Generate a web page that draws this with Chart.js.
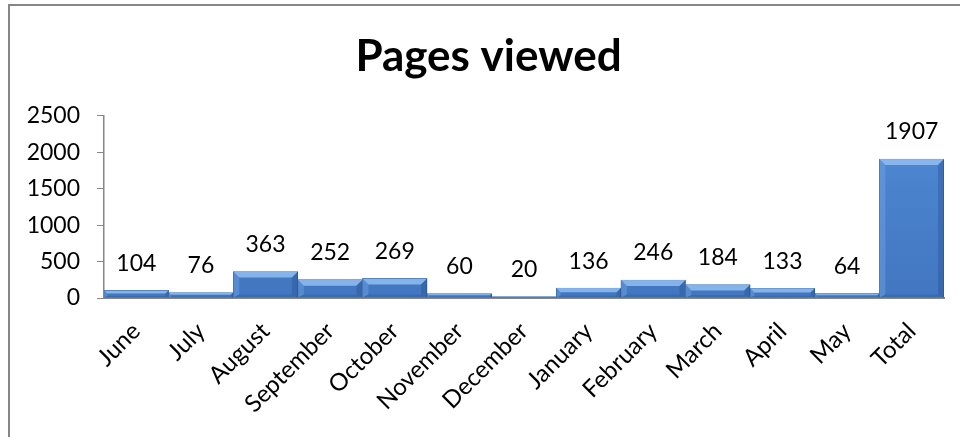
<!DOCTYPE html>
<html>
<head>
<meta charset="utf-8">
<script src="https://cdn.jsdelivr.net/npm/chart.js@4/dist/chart.umd.min.js"></script>
<style>
  body { margin: 0; background: #fff; }
  #wrap { position: relative; width: 960px; height: 437px; overflow: hidden; }
  #frame { position: absolute; left: 8px; top: 4px; width: 980px; height: 460px;
           border: 2px solid #868686; pointer-events: none; }
</style>
</head>
<body>
<div id="wrap">
  <canvas id="myChart" width="960" height="437"></canvas>
  <div id="frame"></div>
</div>
<script>
var months = ['June', 'July', 'August', 'September', 'October', 'November', 'December',
  'January', 'February', 'March', 'April', 'May', 'Total'];
var pagesViewed = [104, 76, 363, 252, 269, 60, 20, 136, 246, 184, 133, 64, 1907];
var yTicks = [0, 500, 1000, 1500, 2000, 2500];

var font = 'Lato, "Open Sans", sans-serif';

// excel centres the title over the frame, not the canvas
var titleShift = {
  id: 'titleShift',
  afterLayout: function (chart) {
    if (chart.titleBlock) chart.titleBlock.left = 33;
  }
};

// bevelled look of the excel bars
var bevel = {
  id: 'bevel',
  afterDatasetsDraw: function (chart) {
    var ctx = chart.ctx;
    chart.getDatasetMeta(0).data.forEach(function (bar) {
      var l = bar.x - bar.width / 2, r = bar.x + bar.width / 2;
      var t = bar.y, b = bar.base;
      var d = Math.min(6, (b - t) * 0.45);
      var e = Math.min(3, (b - t) * 0.2);
      ctx.save();
      ctx.fillStyle = 'rgba(150,195,245,0.8)';
      ctx.beginPath();
      ctx.moveTo(l, t); ctx.lineTo(r, t); ctx.lineTo(r - d, t + d); ctx.lineTo(l + d, t + d);
      ctx.closePath(); ctx.fill();
      ctx.fillStyle = 'rgba(30,70,130,0.3)';
      ctx.beginPath();
      ctx.moveTo(r, t); ctx.lineTo(r, b); ctx.lineTo(r - d, b - e); ctx.lineTo(r - d, t + d);
      ctx.closePath(); ctx.fill();
      ctx.fillStyle = 'rgba(30,70,130,0.25)';
      ctx.beginPath();
      ctx.moveTo(l, b); ctx.lineTo(r, b); ctx.lineTo(r - d, b - e); ctx.lineTo(l + d, b - e);
      ctx.closePath(); ctx.fill();
      ctx.fillStyle = 'rgba(120,170,230,0.4)';
      ctx.beginPath();
      ctx.moveTo(l, t); ctx.lineTo(l + d, t + d); ctx.lineTo(l + d, b - e); ctx.lineTo(l, b);
      ctx.closePath(); ctx.fill();
      ctx.restore();
    });
  }
};

var valueLabels = {
  id: 'valueLabels',
  afterDatasetsDraw: function (chart) {
    var ctx = chart.ctx;
    ctx.save();
    ctx.font = '23px ' + font;
    ctx.fillStyle = '#000';
    ctx.textAlign = 'center';
    ctx.textBaseline = 'middle';
    chart.getDatasetMeta(0).data.forEach(function (bar, i) {
      ctx.fillText(pagesViewed[i], bar.x, bar.y - 27);
    });
    ctx.restore();
  }
};

var chart = document.getElementById('myChart').getContext('2d');
var myChart = new Chart(chart, {
  type: 'bar',
  data: {
    labels: months,
    datasets: [{
      label: 'Pages viewed',
      data: pagesViewed,
      backgroundColor: function (c) {
        var area = c.chart.chartArea;
        if (!area) return '#4a7fcc';
        var g = c.chart.ctx.createLinearGradient(0, area.top, 0, area.bottom);
        g.addColorStop(0, '#5089d4');
        g.addColorStop(1, '#4277c0');
        return g;
      },
      borderColor: '#2f5c99',
      borderWidth: 1,
      barPercentage: 1,
      categoryPercentage: 1
    }]
  },
  options: {
    responsive: false,
    animation: false,
    layout: {
      padding: { left: 0, right: 16, top: 0, bottom: 0 }
    },
    plugins: {
      legend: { display: false },
      tooltip: { enabled: false },
      title: {
        display: true,
        text: 'Pages viewed',
        color: '#000',
        font: { family: font, size: 44, weight: 'bold' },
        padding: { top: 30, bottom: 33 }
      }
    },
    scales: {
      x: {
        grid: { display: false, drawTicks: false },
        border: { display: true, color: '#868686', width: 2 },
        ticks: {
          color: '#000',
          font: { family: font, size: 24 },
          maxRotation: 45,
          minRotation: 45,
          autoSkip: false,
          padding: 19
        },
        afterFit: function (scale) { scale.height = 139; }
      },
      y: {
        min: 0,
        max: 2500,
        afterBuildTicks: function (scale) {
          scale.ticks = yTicks.map(function (v) { return { value: v }; });
        },
        grid: { drawOnChartArea: false, drawTicks: true, tickLength: 7, color: '#868686' },
        border: { display: true, color: '#868686', width: 1.5 },
        ticks: {
          color: '#000',
          font: { family: font, size: 23 },
          padding: 17,
          callback: function (v) { return String(v); }
        },
        afterFit: function (scale) { scale.width = 104; }
      }
    }
  },
  plugins: [titleShift, bevel, valueLabels]
});
</script>
</body>
</html>
